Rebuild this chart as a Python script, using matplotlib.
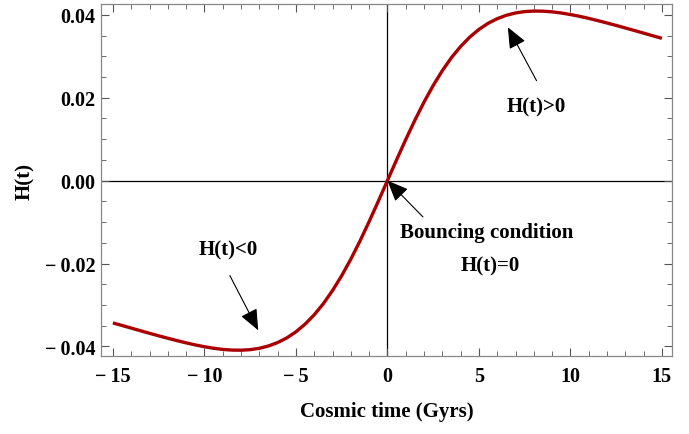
import matplotlib
matplotlib.use("Agg")
import matplotlib.pyplot as plt
from matplotlib.ticker import MultipleLocator, FuncFormatter

# Hubble parameter (t in Gyrs)
t = [-15, -14.5, -14, -13.5, -13, -12.5, -12, -11.5, -11, -10.5, -10,
     -9.5, -9, -8.5, -8, -7.5, -7, -6.5, -6, -5.5, -5, -4.5, -4, -3.5,
     -3, -2.5, -2, -1.5, -1, -0.5, 0, 0.5, 1, 1.5, 2, 2.5, 3, 3.5, 4,
     4.5, 5, 5.5, 6, 6.5, 7, 7.5, 8, 8.5, 9, 9.5, 10, 10.5, 11, 11.5,
     12, 12.5, 13, 13.5, 14, 14.5, 15]
H = [-0.03432, -0.03494, -0.03557, -0.03620, -0.03682, -0.03743, -0.03802,
     -0.03859, -0.03913, -0.03963, -0.04006, -0.04043, -0.04071, -0.04087,
     -0.04090, -0.04077, -0.04044, -0.03988, -0.03906, -0.03794, -0.03647,
     -0.03462, -0.03236, -0.02967, -0.02652, -0.02294, -0.01894, -0.01457,
     -0.00989, -0.00500, 0.0, 0.00500, 0.00989, 0.01457, 0.01894, 0.02294,
     0.02652, 0.02967, 0.03236, 0.03462, 0.03647, 0.03794, 0.03906, 0.03988,
     0.04044, 0.04077, 0.04090, 0.04087, 0.04071, 0.04043, 0.04006, 0.03963,
     0.03913, 0.03859, 0.03802, 0.03743, 0.03682, 0.03620, 0.03557, 0.03494,
     0.03432]

xticks = [-15, -10, -5, 0, 5, 10, 15]
yticks = [-0.04, -0.02, 0.00, 0.02, 0.04]

plt.rcParams['font.family'] = ['Liberation Serif', 'DejaVu Serif']
plt.rcParams['font.weight'] = 'bold'

fig = plt.figure(figsize=(6.89, 4.35), dpi=100)
ax = fig.add_axes([0.1466, 0.1793, 0.8287, 0.8092])

ax.axhline(0, color='black', lw=0.9, zorder=1)
ax.axvline(0, color='black', lw=0.9, zorder=1)
ax.plot(t, H, color='#aa0000', lw=2.4, zorder=3, solid_capstyle='butt')

ax.set_xlim(-15.65, 15.55)
ax.set_ylim(-0.0423, 0.0426)
ax.set_xticks(xticks)
ax.set_yticks(yticks)
ax.xaxis.set_minor_locator(MultipleLocator(1))
ax.yaxis.set_minor_locator(MultipleLocator(0.005))

def fmt_x(v, pos):
    return ('\u2212\u2009' + '%d' % abs(v)) if v < 0 else '%d' % v

def fmt_y(v, pos):
    s = '%.2f' % abs(v)
    return ('\u2212\u2009' + s) if v < -1e-9 else s

ax.xaxis.set_major_formatter(FuncFormatter(fmt_x))
ax.yaxis.set_major_formatter(FuncFormatter(fmt_y))

ax.tick_params(which='both', direction='in', top=True, right=True,
               color='#555555', labelsize=14.5)
ax.tick_params(which='major', length=6, width=0.8)
ax.tick_params(which='minor', length=3.5, width=0.6)
ax.tick_params(axis='x', pad=7)
ax.tick_params(axis='y', pad=4)
for s in ax.spines.values():
    s.set_color('#888888')
    s.set_linewidth(0.9)

ax.set_xlabel('Cosmic time (Gyrs)', fontsize=15, fontweight='bold', labelpad=11)
ax.set_ylabel('H(t)', fontsize=15, fontweight='bold', labelpad=7)

arrow = dict(arrowstyle='-|>,head_length=1.3,head_width=0.55',
             color='black', lw=0.8, shrinkA=0, shrinkB=0)

ax.annotate('', xy=(6.58, 0.0370), xytext=(8.15, 0.0241), arrowprops=arrow)
ax.text(8.15, 0.0178, 'H(t)>0', ha='center', va='center', fontsize=15,
        fontweight='bold')

ax.annotate('', xy=(0.0, 0.0), xytext=(1.94, -0.00875), arrowprops=arrow)
ax.text(5.42, -0.0124, 'Bouncing condition', ha='center', va='center',
        fontsize=15, fontweight='bold')
ax.text(5.6, -0.0205, 'H(t)=0', ha='center', va='center', fontsize=15,
        fontweight='bold')

ax.annotate('', xy=(-7.06, -0.0361), xytext=(-8.61, -0.0229), arrowprops=arrow)
ax.text(-8.70, -0.0165, 'H(t)<0', ha='center', va='center', fontsize=15,
        fontweight='bold')

fig.savefig('out.png', dpi=100)
